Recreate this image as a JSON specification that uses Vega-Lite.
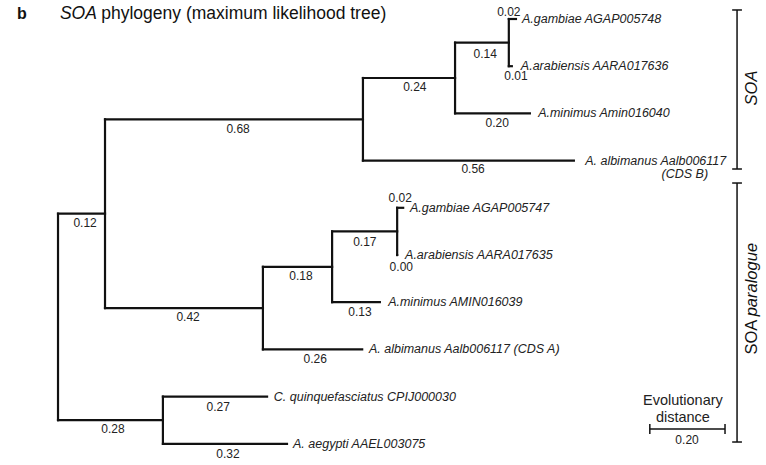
{
  "$schema": "https://vega.github.io/schema/vega-lite/v6.json",
  "width": 766,
  "height": 465,
  "padding": 0,
  "autosize": {"type": "none"},
  "background": "white",
  "config": {"view": {"stroke": null}, "text": {"font": "Liberation Sans"}},
  "datasets": {
    "branches": [
      {"x": 0, "x2": 0.125, "y": 4.125, "y2": 4.125},
      {"x": 0.125, "x2": 0.811, "y": 2.125, "y2": 2.125},
      {"x": 0.811, "x2": 1.056, "y": 1.25, "y2": 1.25},
      {"x": 1.056, "x2": 1.199, "y": 0.5, "y2": 0.5},
      {"x": 1.199, "x2": 1.218, "y": 0, "y2": 0},
      {"x": 1.199, "x2": 1.207, "y": 1, "y2": 1},
      {"x": 1.056, "x2": 1.255, "y": 2, "y2": 2},
      {"x": 0.811, "x2": 1.372, "y": 3, "y2": 3},
      {"x": 0.125, "x2": 0.545, "y": 6.125, "y2": 6.125},
      {"x": 0.545, "x2": 0.729, "y": 5.25, "y2": 5.25},
      {"x": 0.729, "x2": 0.902, "y": 4.5, "y2": 4.5},
      {"x": 0.902, "x2": 0.918, "y": 4, "y2": 4},
      {"x": 0.902, "x2": 0.902, "y": 5, "y2": 5},
      {"x": 0.729, "x2": 0.856, "y": 6, "y2": 6},
      {"x": 0.545, "x2": 0.809, "y": 7, "y2": 7},
      {"x": 0, "x2": 0.279, "y": 8.5, "y2": 8.5},
      {"x": 0.279, "x2": 0.556, "y": 8, "y2": 8},
      {"x": 0.279, "x2": 0.609, "y": 9, "y2": 9},
      {"x": 0, "x2": 0, "y": 4.125, "y2": 8.5},
      {"x": 0.125, "x2": 0.125, "y": 2.125, "y2": 6.125},
      {"x": 0.811, "x2": 0.811, "y": 1.25, "y2": 3},
      {"x": 1.056, "x2": 1.056, "y": 0.5, "y2": 2},
      {"x": 1.199, "x2": 1.199, "y": 0, "y2": 1},
      {"x": 0.545, "x2": 0.545, "y": 5.25, "y2": 7},
      {"x": 0.729, "x2": 0.729, "y": 4.5, "y2": 6},
      {"x": 0.902, "x2": 0.902, "y": 4, "y2": 5},
      {"x": 0.279, "x2": 0.279, "y": 8, "y2": 9}
    ],
    "brackets": [
      {"x": 1.806, "x2": 1.806, "y": -0.191, "y2": 3.178},
      {"x": 1.793, "x2": 1.819, "y": -0.191, "y2": -0.191},
      {"x": 1.793, "x2": 1.819, "y": 3.178, "y2": 3.178},
      {"x": 1.806, "x2": 1.806, "y": 3.475, "y2": 8.962},
      {"x": 1.793, "x2": 1.819, "y": 3.475, "y2": 3.475},
      {"x": 1.793, "x2": 1.819, "y": 8.962, "y2": 8.962},
      {"x": 1.574, "x2": 1.774, "y": 8.686, "y2": 8.686},
      {"x": 1.574, "x2": 1.574, "y": 8.58, "y2": 8.79},
      {"x": 1.774, "x2": 1.774, "y": 8.58, "y2": 8.79}
    ],
    "blabels": [
      {"x": 0.072, "y": 4.322, "t": "0.12"},
      {"x": 0.479, "y": 2.331, "t": "0.68"},
      {"x": 0.949, "y": 1.441, "t": "0.24"},
      {"x": 1.136, "y": 0.742, "t": "0.14"},
      {"x": 1.199, "y": -0.148, "t": "0.02"},
      {"x": 1.218, "y": 1.208, "t": "0.01"},
      {"x": 1.168, "y": 2.203, "t": "0.20"},
      {"x": 1.104, "y": 3.178, "t": "0.56"},
      {"x": 0.91, "y": 3.792, "t": "0.02"},
      {"x": 0.816, "y": 4.725, "t": "0.17"},
      {"x": 0.913, "y": 5.25, "t": "0.00"},
      {"x": 0.646, "y": 5.445, "t": "0.18"},
      {"x": 0.803, "y": 6.208, "t": "0.13"},
      {"x": 0.346, "y": 6.314, "t": "0.42"},
      {"x": 0.684, "y": 7.203, "t": "0.26"},
      {"x": 0.146, "y": 8.686, "t": "0.28"},
      {"x": 0.426, "y": 8.22, "t": "0.27"},
      {"x": 0.452, "y": 9.216, "t": "0.32"},
      {"x": 1.673, "y": 8.92, "t": "0.20"}
    ],
    "leaves": [
      {"x": 1.234, "y": 0, "t": "A.gambiae AGAP005748"},
      {"x": 1.231, "y": 1, "t": "A.arabiensis AARA017636"},
      {"x": 1.277, "y": 2, "t": "A.minimus Amin016040"},
      {"x": 1.402, "y": 3, "t": "A. albimanus Aalb006117"},
      {"x": 0.936, "y": 4, "t": "A.gambiae AGAP005747"},
      {"x": 0.923, "y": 5, "t": "A.arabiensis AARA017635"},
      {"x": 0.878, "y": 6, "t": "A.minimus AMIN016039"},
      {"x": 0.827, "y": 7, "t": "A. albimanus Aalb006117 (CDS A)"},
      {"x": 0.574, "y": 8, "t": "C. quinquefasciatus CPIJ000030"},
      {"x": 0.625, "y": 9, "t": "A. aegypti AAEL003075"}
    ],
    "cdsb": [{"x": 1.729, "y": 3.284, "t": "(CDS B)"}],
    "scaletitle": [
      {"x": 1.662, "y": 8.093, "t": "Evolutionary"},
      {"x": 1.662, "y": 8.453, "t": "distance"}
    ],
    "titleb": [{"x": -0.109, "y": -0.106, "t": "b"}],
    "titlesoa": [{"x": 0.005, "y": -0.106, "t": "SOA"}],
    "titlerest": [{"x": 0.115, "y": -0.106, "t": "phylogeny (maximum likelihood tree)"}],
    "soatop": [{"x": 1.846, "y": 1.462, "t": "SOA"}],
    "soapar1": [{"x": 1.846, "y": 7.108, "t": "SOA"}],
    "soapar2": [{"x": 1.846, "y": 6.299, "t": "paralogue"}]
  },
  "encoding": {
    "x": {"field": "x", "type": "quantitative", "scale": {"domain": [-0.1543, 1.883], "nice": false, "zero": false}, "axis": null},
    "y": {"field": "y", "type": "quantitative", "scale": {"domain": [-0.4025, 9.449], "nice": false, "zero": false, "reverse": true}, "axis": null}
  },
  "layer": [
    {
      "data": {"name": "branches"},
      "mark": {"type": "rule", "strokeWidth": 2.2, "color": "#111", "strokeCap": "square"},
      "encoding": {"x2": {"field": "x2"}, "y2": {"field": "y2"}}
    },
    {
      "data": {"name": "brackets"},
      "mark": {"type": "rule", "strokeWidth": 1.5, "color": "#111", "strokeCap": "butt"},
      "encoding": {"x2": {"field": "x2"}, "y2": {"field": "y2"}}
    },
    {
      "data": {"name": "blabels"},
      "mark": {"type": "text", "fontSize": 12, "color": "#222", "align": "center", "baseline": "middle"},
      "encoding": {"text": {"field": "t"}}
    },
    {
      "data": {"name": "leaves"},
      "mark": {"type": "text", "fontSize": 12.5, "fontStyle": "italic", "color": "#222", "align": "left", "baseline": "middle"},
      "encoding": {"text": {"field": "t"}}
    },
    {
      "data": {"name": "cdsb"},
      "mark": {"type": "text", "fontSize": 12.5, "fontStyle": "italic", "color": "#222", "align": "right", "baseline": "middle"},
      "encoding": {"text": {"field": "t"}}
    },
    {
      "data": {"name": "scaletitle"},
      "mark": {"type": "text", "fontSize": 14.5, "color": "#222", "align": "center", "baseline": "middle"},
      "encoding": {"text": {"field": "t"}}
    },
    {
      "data": {"name": "titleb"},
      "mark": {"type": "text", "fontSize": 16, "fontWeight": "bold", "color": "#111", "align": "left", "baseline": "middle"},
      "encoding": {"text": {"field": "t"}}
    },
    {
      "data": {"name": "titlesoa"},
      "mark": {"type": "text", "fontSize": 17.5, "fontStyle": "italic", "color": "#111", "align": "left", "baseline": "middle"},
      "encoding": {"text": {"field": "t"}}
    },
    {
      "data": {"name": "titlerest"},
      "mark": {"type": "text", "fontSize": 17.5, "color": "#111", "align": "left", "baseline": "middle"},
      "encoding": {"text": {"field": "t"}}
    },
    {
      "data": {"name": "soatop"},
      "mark": {"type": "text", "fontSize": 16.5, "fontStyle": "italic", "color": "#111", "align": "center", "baseline": "middle", "angle": 270},
      "encoding": {"text": {"field": "t"}}
    },
    {
      "data": {"name": "soapar1"},
      "mark": {"type": "text", "fontSize": 16.5, "color": "#111", "align": "left", "baseline": "middle", "angle": 270},
      "encoding": {"text": {"field": "t"}}
    },
    {
      "data": {"name": "soapar2"},
      "mark": {"type": "text", "fontSize": 16.5, "fontStyle": "italic", "color": "#111", "align": "left", "baseline": "middle", "angle": 270},
      "encoding": {"text": {"field": "t"}}
    }
  ]
}
